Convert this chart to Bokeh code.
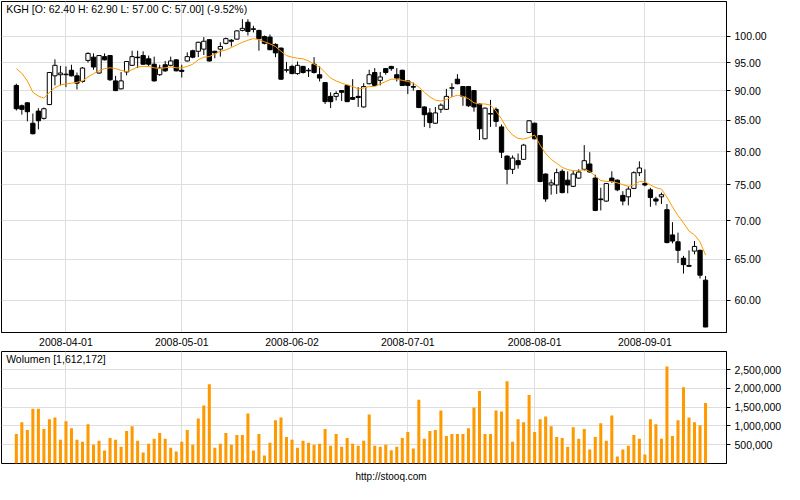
from bokeh.plotting import figure
from bokeh.models import Range1d, FixedTicker, NumeralTickFormatter, Label, Title, ColumnDataSource
from bokeh.layouts import column
from bokeh.embed import file_html
from bokeh.resources import INLINE

FONT = "Liberation Sans"
GRID = "#dedede"
ORANGE = "#FF9900"

# ---- data (trading days, index 0 = 2008-03-17 ... 125 = 2008-09-16) ----
tick_index = [9, 30, 50, 71, 94, 114]
tick_labels = ["2008-04-01", "2008-05-01", "2008-06-02", "2008-07-01", "2008-08-01", "2008-09-01"]
price_ticks = [60, 65, 70, 75, 80, 85, 90, 95, 100]
volume_ticks = [500000, 1000000, 1500000, 2000000, 2500000]

open_ = [90.9, 87.4, 87.9, 84.5, 86.5, 85.3, 87.6, 92.6, 92.8, 92.8,
         93.6, 92.6, 91.6, 95.4, 96.0, 93.1, 96.1, 96.3, 91.7, 90.3,
         93.3, 94.5, 96.0, 96.3, 95.7, 94.7, 92.8, 94.6, 94.5, 95.5,
         93.6, 95.3, 97.2, 97.1, 97.5, 99.3, 97.1, 97.5, 98.6, 99.2,
         99.4, 101.1, 102.7, 101.4, 101.1, 99.9, 99.8, 98.4, 97.7, 93.6,
         94.3, 93.0, 94.3, 93.6, 94.7, 92.8, 91.4, 89.0, 89.0, 90.0,
         90.9, 88.8, 89.0, 87.2, 91.2, 93.2, 91.8, 93.9, 94.3, 92.8,
         93.6, 91.7, 90.7, 90.0, 87.2, 86.2, 84.5, 86.8, 86.8, 90.4,
         92.0, 90.7, 90.7, 90.0, 87.7, 82.0, 86.0, 86.8, 83.9, 79.3,
         77.3, 78.6, 78.8, 83.0, 84.5, 82.5, 76.6, 75.0, 75.0, 77.0,
         75.7, 74.8, 76.0, 77.3, 78.1, 76.0, 73.0, 72.7, 76.0, 75.7,
         73.5, 73.3, 74.5, 76.8, 75.2, 74.3, 73.0, 73.3, 71.5, 68.1,
         67.2, 65.1, 64.2, 66.0, 66.1, 62.4]
high = [91.2, 87.6, 88.0, 86.1, 87.0, 87.1, 93.3, 95.6, 94.4, 94.3,
        94.6, 93.2, 94.2, 96.9, 96.7, 96.4, 96.7, 96.4, 92.6, 93.3,
        95.3, 97.2, 97.2, 97.1, 96.3, 96.1, 94.6, 95.3, 96.1, 95.6,
        94.6, 96.9, 97.4, 98.9, 99.8, 99.4, 97.2, 98.8, 99.7, 99.4,
        101.1, 103.3, 103.3, 102.0, 101.2, 100.1, 100.3, 98.6, 97.8, 95.1,
        94.6, 95.2, 94.4, 94.0, 96.0, 94.3, 91.5, 89.7, 89.9, 90.1,
        91.0, 92.0, 90.6, 91.3, 93.7, 94.0, 93.3, 94.0, 94.4, 94.0,
        93.7, 91.8, 91.4, 90.1, 87.3, 87.0, 87.2, 87.8, 90.3, 91.3,
        92.9, 90.8, 90.8, 90.1, 87.8, 87.1, 88.4, 87.1, 84.3, 79.4,
        79.4, 79.7, 81.2, 85.0, 84.6, 82.6, 76.7, 75.8, 77.4, 77.3,
        77.0, 77.1, 77.3, 81.0, 79.9, 76.5, 74.6, 75.3, 77.0, 75.8,
        74.1, 74.8, 77.0, 78.5, 77.3, 74.6, 73.3, 73.9, 72.3, 69.8,
        68.4, 65.4, 66.1, 67.3, 66.2, 62.9]
low = [86.6, 85.9, 84.8, 82.7, 83.5, 85.1, 87.5, 90.9, 90.9, 90.6,
       92.5, 90.2, 91.4, 95.0, 93.7, 93.0, 95.4, 91.7, 89.9, 90.2,
       92.7, 94.4, 94.0, 94.6, 94.3, 91.6, 92.6, 93.3, 94.3, 93.4,
       92.3, 95.2, 95.8, 96.0, 96.4, 95.2, 95.8, 96.1, 98.4, 98.0,
       99.3, 100.9, 100.1, 100.7, 97.2, 98.4, 97.3, 96.0, 91.9, 93.2,
       92.9, 92.8, 93.0, 92.4, 93.0, 91.6, 87.7, 87.0, 88.3, 88.2,
       88.0, 88.4, 87.2, 87.1, 91.1, 90.8, 90.9, 92.8, 93.5, 91.6,
       90.8, 89.4, 90.0, 87.0, 83.9, 83.7, 84.4, 86.2, 86.7, 88.9,
       91.1, 87.4, 87.2, 86.4, 81.8, 81.9, 83.9, 83.9, 79.0, 75.1,
       76.6, 77.4, 78.7, 82.9, 81.9, 75.4, 72.6, 73.6, 73.7, 73.8,
       73.8, 74.7, 75.9, 77.1, 76.8, 71.3, 71.4, 72.6, 75.3, 74.1,
       72.1, 72.1, 74.4, 76.3, 74.8, 71.9, 72.1, 72.3, 67.0, 67.0,
       64.5, 63.2, 64.0, 65.6, 62.6, 57.0]
close = [86.9, 86.8, 86.4, 82.8, 84.9, 86.9, 93.2, 94.5, 93.1, 92.9,
         92.6, 91.3, 94.0, 96.7, 94.2, 96.3, 95.5, 91.9, 90.0, 91.7,
         95.2, 96.1, 95.9, 94.7, 94.7, 91.7, 94.0, 93.5, 95.3, 93.5,
         93.4, 96.1, 96.0, 98.8, 99.0, 95.3, 96.8, 98.0, 99.5, 99.0,
         101.0, 101.5, 100.9, 101.3, 99.5, 98.6, 97.4, 96.8, 92.0, 93.7,
         93.0, 94.5, 93.2, 93.5, 93.2, 92.2, 88.1, 88.1, 89.5, 89.7,
         88.1, 88.5, 88.8, 90.7, 92.8, 90.9, 92.4, 93.2, 93.9, 92.2,
         90.9, 90.9, 90.6, 87.1, 85.9, 84.6, 86.2, 87.5, 89.0, 90.5,
         91.2, 89.0, 87.4, 87.2, 83.6, 87.0, 86.1, 84.8, 79.9, 77.3,
         79.0, 78.0, 81.0, 84.9, 82.0, 75.5, 73.0, 75.3, 76.8, 73.9,
         75.0, 76.6, 76.9, 78.6, 76.9, 71.4, 72.9, 75.2, 75.5, 74.3,
         72.7, 74.4, 76.8, 77.5, 75.0, 73.2, 72.7, 73.6, 67.1, 67.3,
         66.1, 64.3, 64.1, 66.6, 63.0, 57.0]
moving_avg = [93.9, 93.05, 91.7, 89.7, 89.05, 88.7, 89.7, 90.5, 91.0, 91.15,
              91.3, 91.45, 91.7, 92.4, 93.0, 93.5, 93.9, 94.05, 93.9, 93.6,
              93.35, 93.7, 94.2, 94.3, 94.3, 94.05, 93.9, 94.05, 94.2, 94.05,
              94.05, 94.3, 94.7, 95.5, 96.0, 96.1, 96.6, 97.1, 97.35, 97.8,
              98.3, 98.8, 99.2, 99.5, 99.3, 98.9, 98.5, 98.0, 97.1, 96.3,
              96.0, 95.8, 95.7, 95.3, 94.7, 94.2, 93.2, 92.2, 91.7, 91.3,
              91.0, 90.7, 90.3, 90.45, 90.7, 90.7, 91.15, 91.6, 92.0, 92.0,
              91.8, 91.6, 91.3, 90.6, 89.7, 88.9, 88.35, 88.2, 88.45, 88.9,
              89.2, 89.0, 88.6, 87.9, 87.7, 87.7, 87.5, 86.5, 85.2, 83.6,
              82.6, 82.05, 81.95, 82.2, 82.6, 81.0, 79.7, 78.8, 78.2, 77.6,
              77.25, 77.1, 77.1, 77.25, 77.0, 76.3, 75.65, 75.5, 75.5, 75.3,
              75.05, 74.8, 75.0, 75.5, 75.45, 75.0, 74.6, 74.4, 73.25, 71.9,
              70.7, 69.7, 68.6, 68.1, 67.2, 65.5]
volume = [786000, 1100000, 890000, 1460000, 1460000, 916000, 1175000, 1227000, 630000, 1123000,
          940000, 630000, 580000, 1045000, 500000, 604000, 344000, 680000, 630000, 448000,
          864000, 994000, 604000, 292000, 526000, 656000, 812000, 656000, 422000, 318000,
          580000, 890000, 500000, 1200000, 1540000, 2110000, 422000, 526000, 812000, 500000,
          760000, 760000, 1330000, 344000, 786000, 214000, 550000, 1150000, 1227000, 708000,
          630000, 422000, 604000, 550000, 500000, 526000, 916000, 474000, 786000, 448000,
          680000, 526000, 474000, 604000, 1305000, 474000, 448000, 500000, 350000, 448000,
          680000, 838000, 396000, 1695000, 656000, 864000, 890000, 1410000, 734000, 786000,
          786000, 786000, 940000, 1487000, 1930000, 786000, 786000, 1410000, 1383000, 2190000,
          580000, 1175000, 1100000, 1825000, 838000, 1175000, 1253000, 994000, 708000, 680000,
          448000, 967000, 656000, 916000, 370000, 708000, 1071000, 604000, 1280000, 188000,
          370000, 474000, 760000, 656000, 240000, 1175000, 1045000, 656000, 2580000, 734000,
          1150000, 2030000, 1227000, 1100000, 1020000, 1612172]

title_text = "KGH [O: 62.40  H: 62.90  L: 57.00  C: 57.00] (-9.52%)"
volume_text = "Wolumen [1,612,172]"
footer_text = "http://stooq.com"

# ---- sources ----
idx = list(range(len(close)))
def subset(cond):
    keep = [i for i in idx if cond(i)]
    return ColumnDataSource(dict(
        x=keep,
        top=[max(open_[i], close[i]) for i in keep],
        bottom=[min(open_[i], close[i]) for i in keep],
        high=[high[i] for i in keep],
        low=[low[i] for i in keep],
    ))
src_up = subset(lambda i: close[i] >= open_[i])
src_dn = subset(lambda i: close[i] < open_[i])
src_all = subset(lambda i: True)

x_range = Range1d(-2.69, 128.8)

def style_axis(ax):
    ax.axis_line_color = "black"
    ax.major_tick_line_color = "black"
    ax.minor_tick_line_color = None
    ax.major_tick_in = 0
    ax.major_label_text_font = FONT
    ax.major_label_text_font_size = "10.5px"
    ax.major_label_text_color = "black"

# ---- price panel ----
p = figure(frame_width=725, frame_height=331, x_range=x_range,
           y_range=Range1d(56.4, 106.9), y_axis_type="log",
           x_axis_location="below", y_axis_location="right",
           output_backend="svg", toolbar_location=None,
           min_border_left=1, min_border_top=1, min_border_right=0, min_border_bottom=0,
           background_fill_color="white", border_fill_color="white",
           outline_line_color="black")

pt = FixedTicker(ticks=price_ticks)
p.yaxis.ticker = pt
p.ygrid.ticker = pt
p.yaxis.formatter = NumeralTickFormatter(format="0.00")
style_axis(p.yaxis[0])
p.yaxis.major_tick_out = 4
p.yaxis.major_label_standoff = 4

xt = FixedTicker(ticks=tick_index)
p.xaxis.ticker = xt
p.xgrid.ticker = xt
p.xaxis.major_label_overrides = {t: l for t, l in zip(tick_index, tick_labels)}
style_axis(p.xaxis[0])
p.xaxis.major_tick_out = 0
p.xaxis.major_label_standoff = 5

for g in (p.xgrid, p.ygrid):
    g.grid_line_color = GRID
    g.grid_line_width = 1

p.segment(x0="x", y0="low", x1="x", y1="high", source=src_all, line_color="black", line_width=1)
p.vbar(x="x", width=0.78, top="top", bottom="bottom", source=src_dn,
       fill_color="black", line_color="black", line_width=1)
p.vbar(x="x", width=0.78, top="top", bottom="bottom", source=src_up,
       fill_color="white", line_color="black", line_width=1)
p.line(idx, moving_avg, line_color=ORANGE, line_width=1)

p.add_layout(Label(x=-1.85, y=106.6, text=title_text, text_baseline="top", text_align="left",
                   text_font=FONT, text_font_size="10.5px", text_color="black"))

# ---- volume panel ----
p2 = figure(frame_width=725, frame_height=112, x_range=x_range,
            y_range=Range1d(0, 2.98e6),
            x_axis_location=None, y_axis_location="right",
            output_backend="svg", toolbar_location=None,
            min_border_left=1, min_border_top=3, min_border_right=0, min_border_bottom=1,
            background_fill_color="white", border_fill_color="white",
            outline_line_color="black")
vt = FixedTicker(ticks=volume_ticks)
p2.yaxis.ticker = vt
p2.ygrid.ticker = vt
p2.yaxis.formatter = NumeralTickFormatter(format="0,0")
style_axis(p2.yaxis[0])
p2.yaxis.major_tick_out = 4
p2.yaxis.major_label_standoff = 4
p2.xgrid.ticker = FixedTicker(ticks=tick_index)
for g in (p2.xgrid, p2.ygrid):
    g.grid_line_color = GRID
    g.grid_line_width = 1

p2.vbar(x=idx, width=0.55, top=volume, bottom=0, fill_color=ORANGE, line_color=None)
p2.add_layout(Label(x=-1.85, y=2.93e6, text=volume_text, text_baseline="top", text_align="left",
                    text_font=FONT, text_font_size="10.5px", text_color="black"))

p2.add_layout(Title(text=footer_text, align="left", offset=354, text_font=FONT,
                    text_font_size="10px", text_font_style="normal", text_color="black"), "below")

layout = column(p, p2, spacing=0)
open("out.html", "w").write(file_html(layout, INLINE))
